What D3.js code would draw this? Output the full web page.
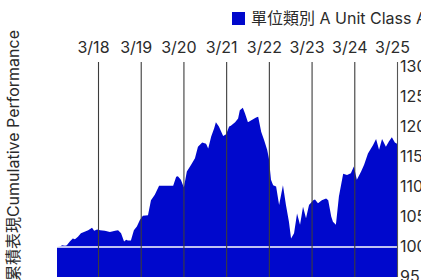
<!DOCTYPE html>
<html>
<head>
<meta charset="utf-8">
<script src="https://cdn.jsdelivr.net/npm/d3@7"></script>
<style>
  html, body { margin: 0; padding: 0; background: #fff; overflow: hidden; }
  svg { display: block; font-family: Inter, "Noto Sans CJK TC", sans-serif; }
</style>
</head>
<body>
<svg id="chart"></svg>
<script>
// day offsets from 3/18 00:00 and the cumulative value at that time
const dayOffsets = [-0.96, -0.89, -0.84, -0.77, -0.73, -0.66, -0.59, -0.54, -0.47, -0.40,
  -0.30, -0.23, -0.14, -0.09, -0.02, 0.05, 0.16, 0.28, 0.40, 0.47,
  0.54, 0.61, 0.66, 0.70, 0.77, 0.84, 0.91, 0.98, 1.05, 1.17,
  1.24, 1.33, 1.43, 1.76, 1.83, 1.87, 1.94, 2.01, 2.08, 2.18,
  2.27, 2.34, 2.44, 2.53, 2.58, 2.65, 2.72, 2.76, 2.83, 2.93,
  3.00, 3.07, 3.11, 3.21, 3.28, 3.32, 3.39, 3.44, 3.51, 3.61,
  3.70, 3.75, 3.82, 3.89, 3.96, 4.00, 4.05, 4.10, 4.17, 4.24,
  4.33, 4.40, 4.47, 4.52, 4.59, 4.66, 4.73, 4.80, 4.87, 4.94,
  5.04, 5.08, 5.15, 5.24, 5.34, 5.39, 5.46, 5.50, 5.57, 5.64,
  5.74, 5.83, 5.92, 5.99, 6.06, 6.16, 6.23, 6.32, 6.44, 6.51,
  6.58, 6.65, 6.74, 6.81, 6.88, 6.95, 7.00];
const values = [100.0, 100.1, 100.3, 100.2, 100.3, 100.9, 101.4, 101.3, 101.7, 102.3,
  102.6, 102.8, 103.2, 102.7, 102.9, 102.8, 102.7, 102.5, 102.7, 102.8,
  102.3, 100.9, 101.2, 101.1, 101.1, 102.8, 103.4, 104.5, 105.2, 105.3,
  107.8, 108.7, 110.2, 110.2, 111.7, 111.8, 111.2, 109.9, 112.6, 113.7,
  114.8, 116.7, 117.4, 117.2, 116.4, 118.4, 119.8, 120.8, 120.1, 118.5,
  118.8, 120.1, 120.2, 120.8, 121.4, 122.8, 123.2, 122.3, 120.8, 121.2,
  121.6, 121.7, 119.2, 117.8, 116.2, 114.8, 111.2, 110.3, 110.1, 107.0,
  110.3, 107.0, 104.2, 101.4, 102.3, 105.6, 103.7, 106.7, 104.8, 107.0,
  107.8, 107.9, 107.3, 107.8, 108.1, 107.8, 105.1, 104.2, 103.7, 108.4,
  112.2, 112.0, 112.3, 113.4, 111.2, 112.6, 113.7, 115.6, 117.0, 118.0,
  116.2, 118.0, 116.7, 117.6, 118.3, 117.4, 117.2];

const dayLabels = ["3/18", "3/19", "3/20", "3/21", "3/22", "3/23", "3/24", "3/25"];
const yTicks = [95, 100, 105, 110, 115, 120, 125, 130];
const seriesName = "單位類別 A Unit Class A";
const yTitle = "累積表現Cumulative Performance";

const width = 421, height = 280;
const plotLeft = 57, plotRight = 397, plotTop = 67, plotBottom = 277;
const blue = "#0008cc";
const textColor = "#2b2b2b";

const base = new Date(2024, 2, 18);
const toDate = d => new Date(base.getTime() + d * 864e5);
const data = dayOffsets.map((d, i) => ({ date: toDate(d), value: values[i] }));
const labelDates = dayLabels.map((s, i) => toDate(i));

const svg = d3.select("#chart").attr("width", width).attr("height", height);

const x = d3.scaleTime()
  .domain(d3.extent(data, d => d.date))
  .range([plotLeft, plotRight]);

const y = d3.scaleLinear()
  .domain([95, 130])
  .range([plotBottom, plotTop]);

// filled area from the bottom of the axis
const area = d3.area()
  .x(d => x(d.date))
  .y0(y(95))
  .y1(d => y(d.value));

svg.append("path")
  .datum(data)
  .attr("d", area)
  .attr("fill", blue);

// baseline at 100
svg.append("line")
  .attr("x1", plotLeft).attr("x2", plotRight)
  .attr("y1", y(100)).attr("y2", y(100))
  .attr("stroke", "#fff")
  .attr("stroke-width", 1.5);

// vertical day lines + labels on top
const xAxis = d3.axisTop(x)
  .tickValues(labelDates)
  .tickSize(-(plotBottom - plotTop + 5))
  .tickFormat((d, i) => dayLabels[i]);

const gx = svg.append("g")
  .attr("transform", "translate(0," + (plotTop - 5) + ")")
  .call(xAxis);
gx.select(".domain").remove();
gx.selectAll(".tick line")
  .attr("stroke", "#3c3c3c")
  .attr("stroke-width", 1.1);
gx.selectAll(".tick text")
  .attr("y", -9)
  .attr("dx", -5)
  .attr("fill", textColor)
  .style("font-size", "16px")
  .style("font-family", "Inter, sans-serif");

// right axis
const yAxis = d3.axisRight(y)
  .tickValues(yTicks)
  .tickSize(0)
  .tickPadding(3);

const gy = svg.append("g")
  .attr("transform", "translate(" + plotRight + ",0)")
  .call(yAxis);
gy.select(".domain")
  .attr("d", "M0.5," + (plotTop - 5) + "V" + plotBottom)
  .attr("stroke", "#555");
gy.selectAll(".tick text")
  .attr("fill", textColor)
  .attr("dy", "0.3em")
  .style("font-size", "16px")
  .style("font-family", "Inter, sans-serif");

// legend
svg.append("rect")
  .attr("x", 232).attr("y", 12)
  .attr("width", 13).attr("height", 13)
  .attr("fill", blue);
svg.append("text")
  .attr("x", 251).attr("y", 24)
  .attr("fill", textColor)
  .style("font-size", "16px")
  .text(seriesName);

// y title
svg.append("text")
  .attr("transform", "translate(19,30) rotate(-90)")
  .attr("text-anchor", "end")
  .attr("fill", textColor)
  .style("font-size", "16px")
  .text(yTitle);
</script>
</body>
</html>
